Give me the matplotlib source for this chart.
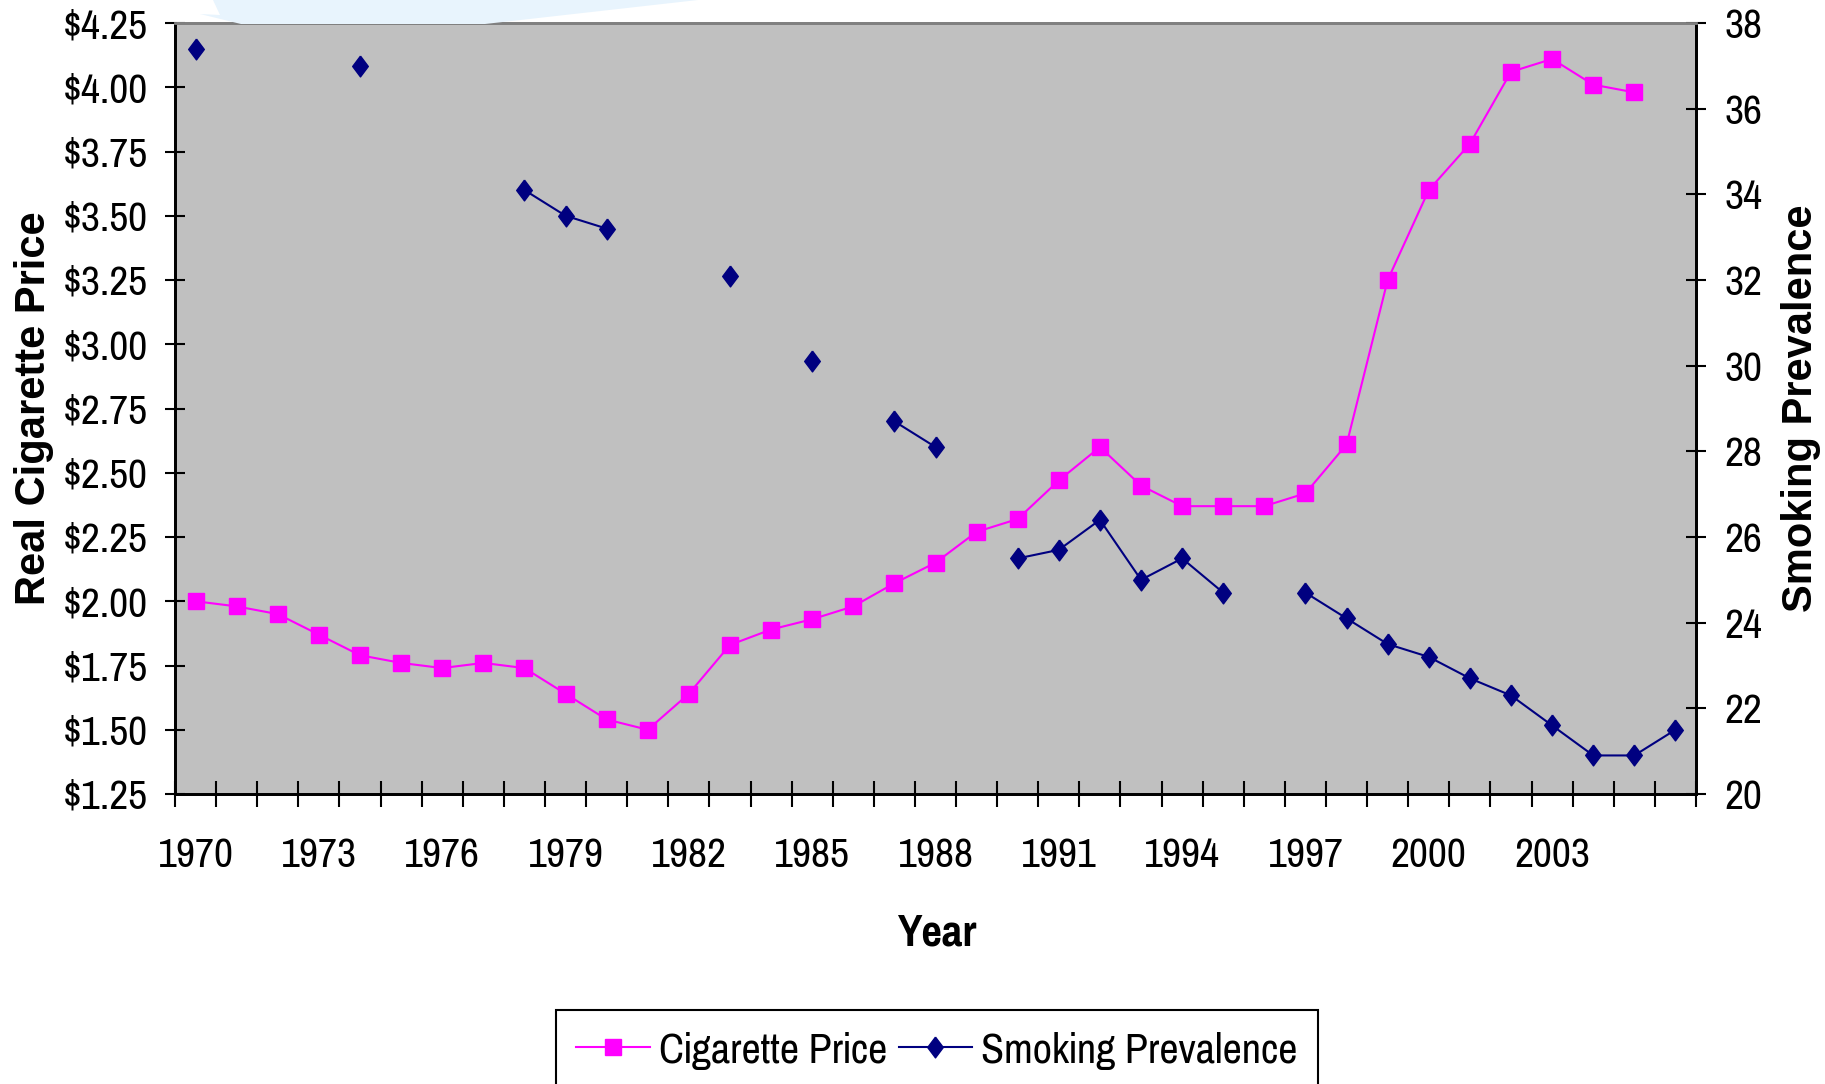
import matplotlib
matplotlib.use("Agg")
import matplotlib.pyplot as plt
import numpy as np
from matplotlib import font_manager
from matplotlib.patches import Polygon
from matplotlib.ticker import FixedLocator, NullFormatter

# Daten
years = list(range(1970, 2007))
price = [2.00, 1.98, 1.95, 1.87, 1.79, 1.76, 1.74, 1.76, 1.74, 1.64,
         1.54, 1.50, 1.64, 1.83, 1.89, 1.93, 1.98, 2.07, 2.15, 2.27,
         2.32, 2.47, 2.60, 2.45, 2.37, 2.37, 2.37, 2.42, 2.61, 3.25,
         3.60, 3.78, 4.06, 4.11, 4.01, 3.98, None]
prevalence = [37.4, None, None, None, 37.0, None, None, None, 34.1, 33.5,
              33.2, None, None, 32.1, None, 30.1, None, 28.7, 28.1, None,
              25.5, 25.7, 26.4, 25.0, 25.5, 24.7, None, 24.7, 24.1, 23.5,
              23.2, 22.7, 22.3, 21.6, 20.9, 20.9, 21.5]
label_years = list(range(1970, 2004, 3))
price_ticks = np.arange(1.25, 4.26, 0.25)
prev_ticks = list(range(20, 39, 2))

names = {f.name for f in font_manager.fontManager.ttflist}
narrow = 'Liberation Sans'
for cand in ['Liberation Sans Narrow', 'Arial Narrow', 'Pragati Narrow',
             'Archivo Narrow', 'PT Sans Narrow', 'Roboto Condensed',
             'IBM Plex Sans Condensed']:
    if cand in names:
        narrow = cand
        break
wide = 'Liberation Sans'

W, H = 1825, 1084
fig = plt.figure(figsize=(W / 100, H / 100), dpi=100)

# hellblaues Hintergrund-Stueck oben
swoosh = [(213, 0), (220, 15), (200, 14), (241, 24), (485, 24), (698, 0)]
fig.patches.append(Polygon([(x / W, 1 - y / H) for x, y in swoosh], closed=True,
                           transform=fig.transFigure, facecolor='#E8F4FD',
                           edgecolor='none', zorder=0))

ax = fig.add_axes([175 / W, 1 - 794 / H, (1696 - 175) / W, (794 - 23) / H])
ax.set_facecolor('#C0C0C0')
ax2 = ax.twinx()

x = np.arange(len(years))
p = np.array([np.nan if v is None else v for v in price], dtype=float)
s = np.array([np.nan if v is None else v for v in prevalence], dtype=float)

diamond = [(0, 1), (0.75, 0), (0, -1), (-0.75, 0), (0, 1)]
l1, = ax.plot(x, p, color='#FF00FF', lw=1.5, marker='s', ms=11,
              mec='#FF00FF', mfc='#FF00FF', label='Cigarette Price')
l2, = ax2.plot(x, s, color='#000080', lw=1.5, marker=diamond, ms=15,
               mec='#000080', mfc='#000080', label='Smoking Prevalence')

ax.set_xlim(-0.5, len(years) - 0.5)
ax.set_ylim(1.25, 4.25)
ax2.set_ylim(20, 38)

# Kategorie-Achse: Striche zwischen den Jahren, Beschriftung alle 3 Jahre
ax.xaxis.set_major_locator(FixedLocator(np.arange(-0.5, len(years), 1.0)))
ax.xaxis.set_major_formatter(NullFormatter())
ax.xaxis.set_minor_locator(FixedLocator([years.index(y) for y in label_years]))
ax.set_xticklabels([str(y) for y in label_years], minor=True)
ax.tick_params(axis='x', which='major', direction='inout', length=19, width=1.5)
ax.tick_params(axis='x', which='minor', length=0, pad=31)

ax.set_yticks(price_ticks)
ax.set_yticklabels([f'${v:.2f}' for v in price_ticks])
ax.tick_params(axis='y', direction='inout', length=15, width=1.5, pad=12)
ax2.set_yticks(prev_ticks)
ax2.tick_params(axis='y', direction='inout', length=15, width=1.5, pad=13)

for lab in ax.get_xticklabels(minor=True) + ax.get_yticklabels() + ax2.get_yticklabels():
    lab.set_fontfamily(narrow)
    lab.set_fontsize(32.5)

for a in (ax, ax2):
    for side in ('left', 'bottom', 'right'):
        a.spines[side].set_color('black')
        a.spines[side].set_linewidth(2)
    a.spines['top'].set_color('#808080')
    a.spines['top'].set_linewidth(2)

fig.text(34 / W, 1 - 408 / H, 'Real Cigarette Price', rotation=90, ha='center',
         va='center', fontsize=30, fontweight='bold', family=wide)
fig.text(1801 / W, 1 - 408 / H, 'Smoking Prevalence', rotation=90, ha='center',
         va='center', fontsize=30, fontweight='bold', family=wide)
fig.text(937 / W, 1 - 946 / H, 'Year', ha='center', va='baseline',
         fontsize=35, fontweight='bold', family=narrow)

leg = fig.legend(handles=[l1, l2], loc='upper center',
                 bbox_to_anchor=(937 / W, 1 - 1010 / H), ncol=2,
                 prop={'family': narrow, 'size': 33}, frameon=True,
                 fancybox=False, edgecolor='black', framealpha=1,
                 handlelength=1.6, handletextpad=0.2, columnspacing=0.25,
                 borderpad=0.45, borderaxespad=0)
leg.get_frame().set_linewidth(1.5)

fig.savefig('out.png', dpi=100)
